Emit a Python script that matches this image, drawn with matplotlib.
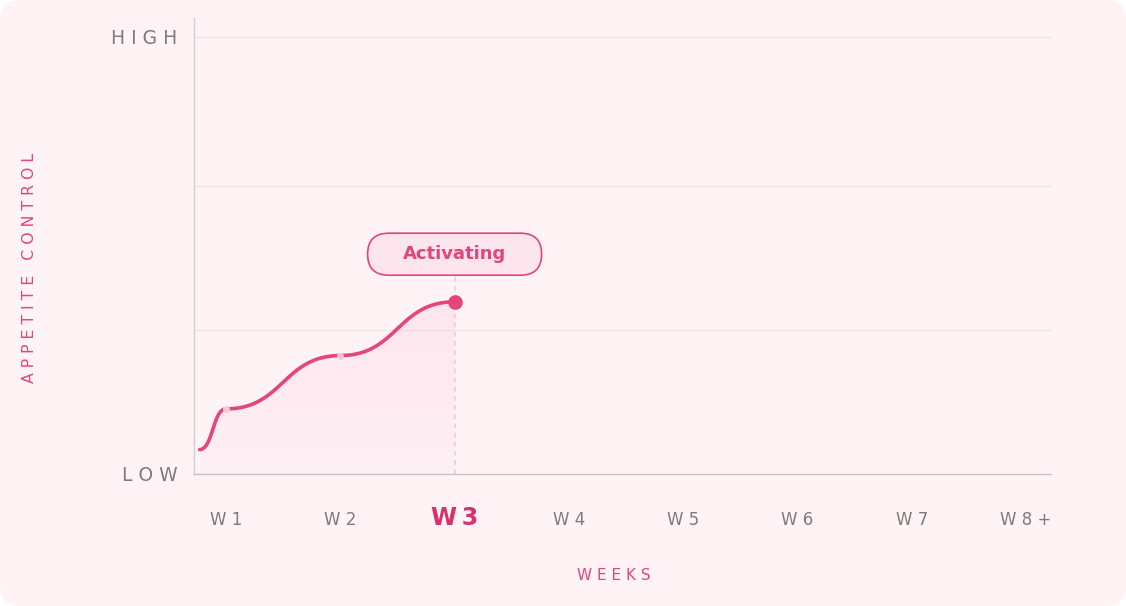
import numpy as np
import matplotlib.pyplot as plt
from matplotlib.patches import FancyBboxPatch, Polygon
from matplotlib.transforms import IdentityTransform, blended_transform_factory

plt.rcParams["font.family"] = ["DejaVu Sans"]

# data
weeks = ["W1", "W2", "W3", "W4", "W5", "W6", "W7", "W8+"]
curve_x = [-0.23, 0, 1, 2]
curve_y = [5.6, 14.9, 27.1, 39.4]
current_week = 2
grid_levels = [33, 66, 100]
level_labels = ["LOW", "HIGH"]
level_values = [0, 100]
badge_text = "Activating"
badge_level = 50.3

pink = "#e4457d"
gray = "#7c7c7c"
bg = "#fff3f6"


def spaced(s, sep=" "):
    # fake letter spacing
    return sep.join(s)


def smooth(xs, ys, n=80):
    # cubic bezier between points, flat tangents at each point
    px, py = [xs[0]], [ys[0]]
    t = np.linspace(0, 1, n)[1:]
    for i in range(len(xs) - 1):
        x0, y0, x1, y1 = xs[i], ys[i], xs[i + 1], ys[i + 1]
        cx0 = x0 + (x1 - x0) / 2
        cx1 = x1 - (x1 - x0) / 2
        bx = (1 - t) ** 3 * x0 + 3 * (1 - t) ** 2 * t * cx0 + 3 * (1 - t) * t ** 2 * cx1 + t ** 3 * x1
        by = (1 - t) ** 3 * y0 + 3 * (1 - t) ** 2 * t * y0 + 3 * (1 - t) * t ** 2 * y1 + t ** 3 * y1
        px.extend(bx)
        py.extend(by)
    return np.array(px), np.array(py)


fig = plt.figure(figsize=(11.26, 6.06), dpi=100, facecolor="white")

# rounded card background
card = FancyBboxPatch((0, 0), 1126, 606, boxstyle="round,pad=0,rounding_size=20",
                      transform=IdentityTransform(), facecolor=bg, edgecolor="none", zorder=-10)
fig.patches.append(card)

ax = fig.add_axes([194 / 1126, 1 - 474 / 606, 857 / 1126, 456 / 606])
ax.set_zorder(1)
ax.patch.set_visible(False)
ax.set_xlim(-0.28, 7.218)
ax.set_ylim(0, 104.35)

for s in ["top", "right"]:
    ax.spines[s].set_visible(False)
ax.spines["left"].set_color("#d3cdd0")
ax.spines["bottom"].set_color("#c8c2c5")
ax.spines["left"].set_linewidth(1.0)
ax.spines["bottom"].set_linewidth(1.0)
ax.set_xticks([])
ax.set_yticks([])

for g in grid_levels:
    ax.axhline(g, color="#f1e1e6", lw=0.9, zorder=1)

# curve + gradient fill
sx, sy = smooth(curve_x, curve_y)
poly = Polygon(np.column_stack([np.r_[sx, sx[-1], sx[0]], np.r_[sy, 0, 0]]),
               closed=True, facecolor="none", edgecolor="none")
ax.add_patch(poly)
grad = np.zeros((100, 1, 4))
grad[..., 0] = 0.97
grad[..., 1] = 0.72
grad[..., 2] = 0.81
grad[:, 0, 3] = np.linspace(0.22, 0.05, 100)
img = ax.imshow(grad, extent=[sx[0], sx[-1], 0, max(sy)], origin="upper",
                aspect="auto", zorder=2, interpolation="bilinear")
img.set_clip_path(poly)
ax.set_xlim(-0.28, 7.218)
ax.set_ylim(0, 104.35)

# dashed guide at current week
ax.plot([current_week, current_week], [0, badge_level - 4.8], color="#f7c3d4",
        lw=1.1, ls=(0, (3, 3)), zorder=2)

ax.plot(sx, sy, color=pink, lw=2.6, solid_capstyle="round", zorder=4)
ax.plot(curve_x[1:3], curve_y[1:3], "o", color="#f7c8d7", ms=4, zorder=5)
ax.plot([curve_x[3]], [curve_y[3]], "o", color=pink, ms=9.5, zorder=6)

# badge
cx, cy = ax.transData.transform((current_week, badge_level))
pill = FancyBboxPatch((cx - 87, cy - 21), 174, 42, boxstyle="round,pad=0,rounding_size=21",
                      transform=IdentityTransform(), facecolor="#fde5ed",
                      edgecolor="#e0457b", lw=1.2, zorder=7)
ax.add_patch(pill)
ax.text(current_week, badge_level, badge_text, ha="center", va="center",
        fontsize=13, fontweight="bold", color="#e0457b", zorder=8)

# x labels
tx = blended_transform_factory(ax.transData, ax.transAxes)
for i, w in enumerate(weeks):
    if i == current_week:
        ax.text(i, -0.096, spaced(w, "\u2009"), transform=tx, ha="center", va="center",
                fontsize=17, fontweight="bold", color="#d6336c")
    else:
        ax.text(i, -0.101, spaced(w), transform=tx, ha="center", va="center",
                fontsize=12, color=gray)

# y level labels
ty = blended_transform_factory(ax.transAxes, ax.transData)
for lab, v in zip(level_labels, level_values):
    ax.text(-0.019, v - 0.3, spaced(lab), transform=ty, ha="right", va="center",
            fontsize=13.5, color=gray)

fig.text(30 / 1126, 1 - 268 / 606, spaced("APPETITE CONTROL"), rotation=90,
         ha="center", va="center", fontsize=11.3, color=pink)
fig.text(614 / 1126, 1 - 575 / 606, spaced("WEEKS"), ha="center", va="center",
         fontsize=11, color=pink)

fig.savefig("out.png", dpi=100, facecolor="white")
